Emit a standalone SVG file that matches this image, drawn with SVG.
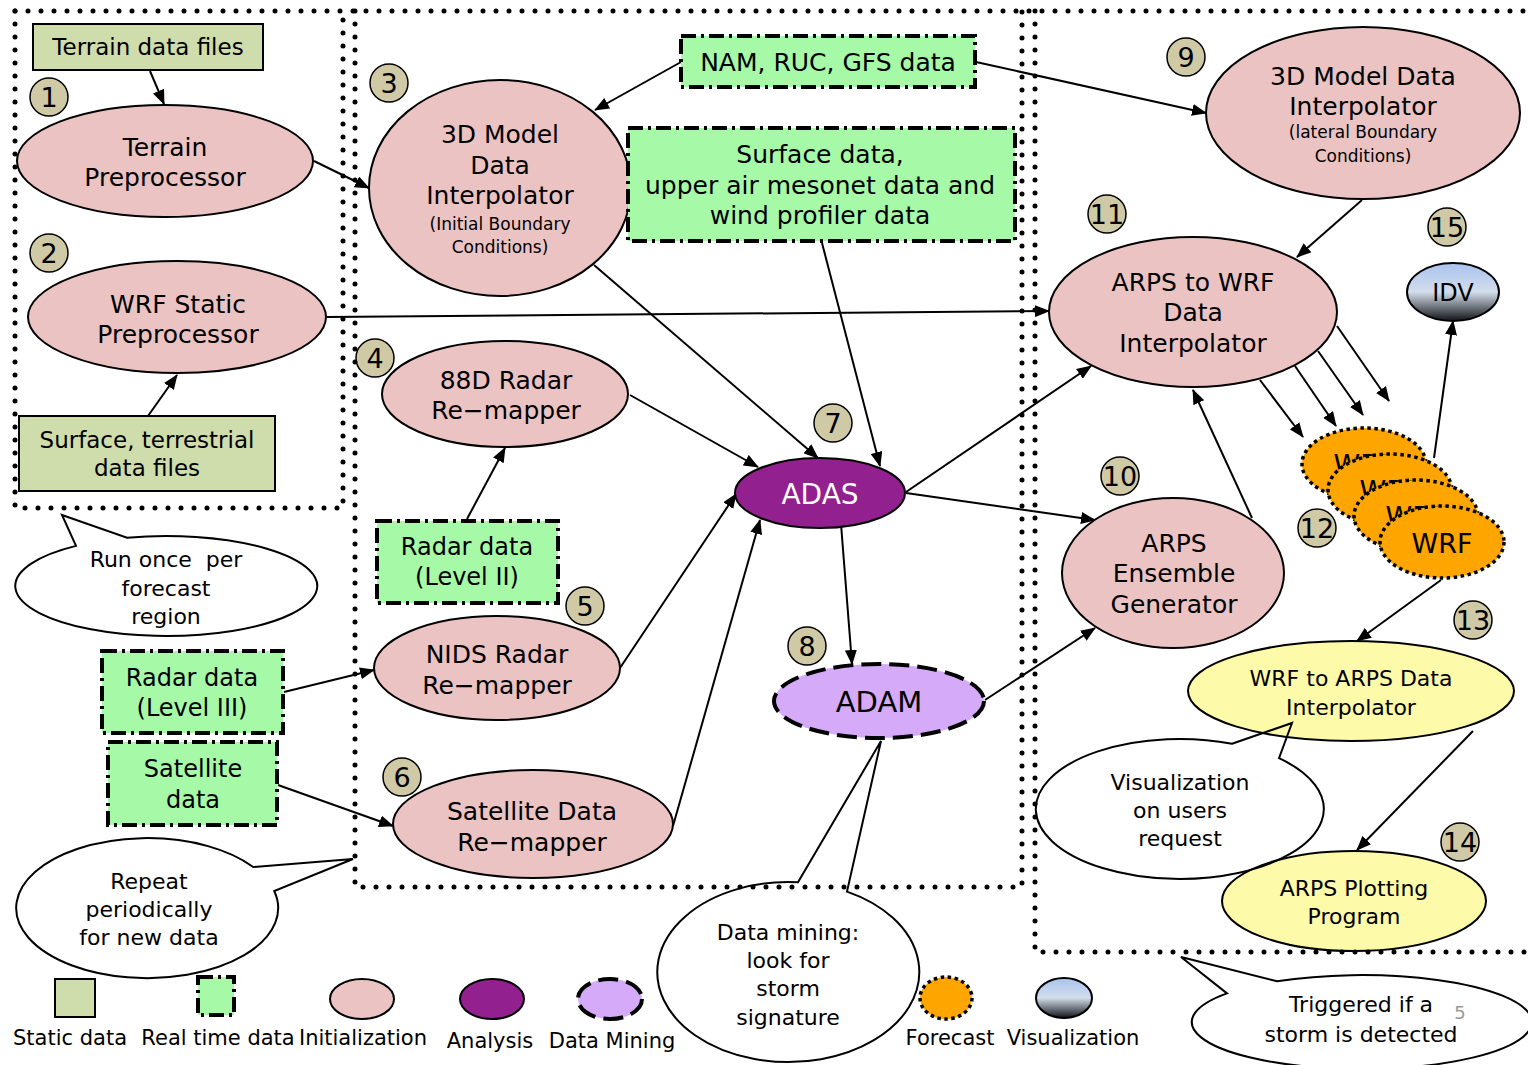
<svg xmlns="http://www.w3.org/2000/svg" width="1528" height="1065" viewBox="0 0 1528 1065">
<defs>
<style>
text { font-family: "DejaVu Sans", "Noto Sans", sans-serif; fill:#000; text-anchor:middle; }
.f25 { font-size:25px } .f24 { font-size:24px } .f23 { font-size:23px } .f22 { font-size:22px } .f21 { font-size:21px } .f17 { font-size:17px }
.num { font-size:27px }
.static { fill:#cfdcab; stroke:#000; stroke-width:2 }
.rt { fill:#a6f9a6; stroke:#000; stroke-width:4; stroke-dasharray:15 5 3 5 }
.init { fill:#ebc3c3; stroke:#000; stroke-width:2 }
.ana { fill:#93208f; stroke:#000; stroke-width:2 }
.dm { fill:#d5aaf9; stroke:#000; stroke-width:4; stroke-dasharray:20 8 }
.fc { fill:#ffa500; stroke:#000; stroke-width:3.5; stroke-dasharray:3.5 3.5 }
.yel { fill:#fdfaa9; stroke:#000; stroke-width:2 }
.vis { fill:url(#visGrad); stroke:#000; stroke-width:2 }
.badge { fill:#d0c9a6; stroke:#000; stroke-width:1.5 }
.callout { fill:none; stroke:#000; stroke-width:2 }
.edge { fill:none; stroke:#000; stroke-width:2; marker-end:url(#arr) }
.bound { fill:none; stroke:#000; stroke-width:5; stroke-linecap:round; stroke-dasharray:0 13 }
</style>
<marker id="arr" markerWidth="15" markerHeight="12" refX="14" refY="6" orient="auto" markerUnits="userSpaceOnUse">
<path d="M0,0 L15,6 L0,12 z" fill="#000"/>
</marker>
<linearGradient id="visGrad" x1="0" y1="0" x2="0" y2="1">
<stop offset="0" stop-color="#a9c3ee"/>
<stop offset="0.5" stop-color="#d3ddeb"/>
<stop offset="1" stop-color="#111418"/>
</linearGradient>
</defs>
<rect width="1528" height="1065" fill="#fff"/>

<g id="connectors">
<line class="edge" x1="150" y1="71" x2="164" y2="104"/>
<line class="edge" x1="148" y1="416" x2="177" y2="375"/>
<line class="edge" x1="314" y1="161" x2="369" y2="188"/>
<line class="edge" x1="681" y1="62" x2="595" y2="110"/>
<line class="edge" x1="976" y1="62" x2="1206" y2="113"/>
<line class="edge" x1="327" y1="317" x2="1049" y2="311"/>
<line class="edge" x1="594" y1="265" x2="818" y2="458"/>
<line class="edge" x1="822" y1="243" x2="880" y2="466"/>
<line class="edge" x1="630" y1="395" x2="758" y2="467"/>
<line class="edge" x1="467" y1="519" x2="505" y2="448"/>
<line class="edge" x1="620" y1="668" x2="736" y2="494"/>
<line class="edge" x1="284" y1="692" x2="374" y2="670"/>
<line class="edge" x1="278" y1="785" x2="393" y2="826"/>
<line class="edge" x1="673" y1="826" x2="760" y2="520"/>
<line class="edge" x1="906" y1="492" x2="1091" y2="366"/>
<line class="edge" x1="906" y1="493" x2="1095" y2="520"/>
<line class="edge" x1="841" y1="524" x2="852" y2="664"/>
<line class="edge" x1="985" y1="700" x2="1095" y2="628"/>
<line class="edge" x1="1252" y1="518" x2="1193" y2="390"/>
<line class="edge" x1="1362" y1="200" x2="1297" y2="257"/>
<line class="edge" x1="1260" y1="380" x2="1303" y2="437"/>
<line class="edge" x1="1295" y1="366" x2="1336" y2="426"/>
<line class="edge" x1="1318" y1="351" x2="1363" y2="415"/>
<line class="edge" x1="1337" y1="326" x2="1389" y2="401"/>
<line class="edge" x1="1434" y1="458" x2="1453" y2="321"/>
<line class="edge" x1="1441" y1="580" x2="1357" y2="641"/>
<line class="edge" x1="1473" y1="731" x2="1357" y2="850"/>
</g>

<g id="n-terrain-files">
<rect class="static" x="33" y="24" width="230" height="46"/>
<text class="f23" x="148" y="55">Terrain data files</text>
</g>
<g id="badge-1"><circle class="badge" cx="49" cy="97" r="19"/><text class="num" x="49" y="107">1</text></g>
<g id="n-terrain-pre">
<ellipse class="init" cx="165" cy="161" rx="148" ry="56"/>
<text class="f25" x="165" y="156">Terrain</text>
<text class="f25" x="165" y="186">Preprocessor</text>
</g>
<g id="badge-2"><circle class="badge" cx="49" cy="253" r="19"/><text class="num" x="49" y="263">2</text></g>
<g id="n-wrf-static">
<ellipse class="init" cx="177" cy="317" rx="149" ry="56"/>
<text class="f25" x="178" y="313">WRF Static</text>
<text class="f25" x="178" y="343">Preprocessor</text>
</g>
<g id="n-surface-files">
<rect class="static" x="19" y="416" width="256" height="75"/>
<text class="f23" x="147" y="448">Surface, terrestrial</text>
<text class="f23" x="147" y="476">data files</text>
</g>

<g id="badge-3"><circle class="badge" cx="389" cy="83" r="19"/><text class="num" x="389" y="93">3</text></g>
<g id="n-3d-initial">
<ellipse class="init" cx="500" cy="188" rx="131" ry="108"/>
<text class="f25" x="500" y="143">3D Model</text>
<text class="f25" x="500" y="174">Data</text>
<text class="f25" x="500" y="204">Interpolator</text>
<text class="f17" x="500" y="230">(Initial Boundary</text>
<text class="f17" x="500" y="253">Conditions)</text>
</g>
<g id="n-nam">
<rect class="rt" x="681" y="36" width="294" height="51"/>
<text class="f25" x="828" y="71">NAM, RUC, GFS data</text>
</g>
<g id="n-surface-data">
<rect class="rt" x="628" y="128" width="387" height="113"/>
<text class="f25" x="820" y="163">Surface data,</text>
<text class="f25" x="820" y="194">upper air mesonet data and</text>
<text class="f25" x="820" y="224">wind profiler data</text>
</g>
<g id="badge-4"><circle class="badge" cx="375" cy="358" r="19"/><text class="num" x="375" y="368">4</text></g>
<g id="n-88d">
<ellipse class="init" cx="505" cy="394" rx="123" ry="53"/>
<text class="f25" x="506" y="389">88D Radar</text>
<text class="f25" x="506" y="419">Re−mapper</text>
</g>
<g id="n-radar-l2">
<rect class="rt" x="377" y="521" width="181" height="82"/>
<text class="f24" x="467" y="555">Radar data</text>
<text class="f24" x="467" y="585">(Level II)</text>
</g>
<g id="badge-5"><circle class="badge" cx="585" cy="606" r="19"/><text class="num" x="585" y="616">5</text></g>
<g id="n-nids">
<ellipse class="init" cx="497" cy="668" rx="123" ry="52"/>
<text class="f25" x="497" y="663">NIDS Radar</text>
<text class="f25" x="497" y="694">Re−mapper</text>
</g>
<g id="n-radar-l3">
<rect class="rt" x="102" y="651" width="181" height="82"/>
<text class="f24" x="192" y="686">Radar data</text>
<text class="f24" x="192" y="716">(Level III)</text>
</g>
<g id="n-sat-data">
<rect class="rt" x="108" y="742" width="169" height="83"/>
<text class="f24" x="193" y="777">Satellite</text>
<text class="f24" x="193" y="808">data</text>
</g>
<g id="badge-6"><circle class="badge" cx="402" cy="777" r="19"/><text class="num" x="402" y="787">6</text></g>
<g id="n-sat-remap">
<ellipse class="init" cx="533" cy="824" rx="140" ry="54"/>
<text class="f25" x="532" y="820">Satellite Data</text>
<text class="f25" x="532" y="851">Re−mapper</text>
</g>
<g id="badge-7"><circle class="badge" cx="833" cy="423" r="19"/><text class="num" x="833" y="433">7</text></g>
<g id="n-adas">
<ellipse class="ana" cx="820" cy="493" rx="85" ry="35"/>
<text x="820" y="504" style="font-size:28px;fill:#fff">ADAS</text>
</g>
<g id="badge-8"><circle class="badge" cx="807" cy="646" r="19"/><text class="num" x="807" y="656">8</text></g>
<g id="n-adam">
<ellipse class="dm" cx="879" cy="701" rx="105" ry="37"/>
<text x="879" y="712" style="font-size:29px">ADAM</text>
</g>

<g id="badge-9"><circle class="badge" cx="1186" cy="57" r="19"/><text class="num" x="1186" y="67">9</text></g>
<g id="n-3d-lateral">
<ellipse class="init" cx="1363" cy="113" rx="157" ry="86"/>
<text class="f25" x="1363" y="85">3D Model Data</text>
<text class="f25" x="1363" y="115">Interpolator</text>
<text class="f17" x="1363" y="138">(lateral Boundary</text>
<text class="f17" x="1363" y="162">Conditions)</text>
</g>
<g id="badge-11"><circle class="badge" cx="1107" cy="214" r="19"/><text class="num" x="1107" y="224">11</text></g>
<g id="n-arps-wrf">
<ellipse class="init" cx="1193" cy="312" rx="144" ry="75"/>
<text class="f25" x="1193" y="291">ARPS to WRF</text>
<text class="f25" x="1193" y="321">Data</text>
<text class="f25" x="1193" y="352">Interpolator</text>
</g>
<g id="badge-15"><circle class="badge" cx="1447" cy="227" r="19"/><text class="num" x="1447" y="237">15</text></g>
<g id="n-idv">
<ellipse class="vis" cx="1453" cy="292" rx="46" ry="29"/>
<text class="f24" x="1453" y="301">IDV</text>
</g>
<g id="badge-10"><circle class="badge" cx="1120" cy="476" r="19"/><text class="num" x="1120" y="486">10</text></g>
<g id="n-ensemble">
<ellipse class="init" cx="1173" cy="573" rx="111" ry="75"/>
<text class="f25" x="1174" y="552">ARPS</text>
<text class="f25" x="1174" y="582">Ensemble</text>
<text class="f25" x="1174" y="613">Generator</text>
</g>
<g id="n-wrf">
<ellipse class="fc" cx="1364" cy="464" rx="62" ry="36"/>
<text x="1364" y="474" style="font-size:27px">WRF</text>
<ellipse class="fc" cx="1390" cy="490" rx="62" ry="36"/>
<text x="1390" y="500" style="font-size:27px">WRF</text>
<ellipse class="fc" cx="1416" cy="516" rx="62" ry="36"/>
<text x="1416" y="526" style="font-size:27px">WRF</text>
<ellipse class="fc" cx="1442" cy="542" rx="62" ry="36"/>
<text x="1442" y="553" style="font-size:27px">WRF</text>
</g>
<g id="badge-12"><circle class="badge" cx="1317" cy="528" r="19"/><text class="num" x="1317" y="538">12</text></g>
<g id="badge-13"><circle class="badge" cx="1473" cy="620" r="19"/><text class="num" x="1473" y="630">13</text></g>
<g id="n-wrf-arps">
<ellipse class="yel" cx="1351" cy="691" rx="163" ry="50"/>
<text class="f22" x="1351" y="686">WRF to ARPS Data</text>
<text class="f22" x="1351" y="715">Interpolator</text>
</g>
<g id="badge-14"><circle class="badge" cx="1460" cy="842" r="19"/><text class="num" x="1460" y="852">14</text></g>
<g id="n-plotting">
<ellipse class="yel" cx="1354" cy="901" rx="132" ry="50"/>
<text class="f22" x="1354" y="896">ARPS Plotting</text>
<text class="f22" x="1354" y="924">Program</text>
</g>

<g id="callout-run-once">
<path class="callout" d="M76,545.9 L62,515 L127,537.7 A151,50 0 1 1 76,545.9 Z"/>
<text class="f22" x="166" y="567" style="white-space:pre">Run once  per</text>
<text class="f22" x="166" y="596">forecast</text>
<text class="f22" x="166" y="624">region</text>
</g>
<g id="callout-repeat">
<path class="callout" d="M253.2,867 L353,859 L274.2,891 A131,70 0 1 1 253.2,867 Z"/>
<text class="f22" x="149" y="889">Repeat</text>
<text class="f22" x="149" y="917">periodically</text>
<text class="f22" x="149" y="945">for new data</text>
</g>
<g id="callout-data-mining">
<path class="callout" d="M798,882.3 L881,741 L847,891.6 A131,90 0 1 1 798,882.3 Z"/>
<text class="f22" x="788" y="940">Data mining:</text>
<text class="f22" x="788" y="968">look for</text>
<text class="f22" x="788" y="996">storm</text>
<text class="f22" x="788" y="1025">signature</text>
</g>
<g id="callout-visualization">
<path class="callout" d="M1232,743.7 L1292,723 L1279,758.2 A144,70 0 1 1 1232,743.7 Z"/>
<text class="f22" x="1180" y="790">Visualization</text>
<text class="f22" x="1180" y="818">on users</text>
<text class="f22" x="1180" y="846">request</text>
</g>
<g id="callout-triggered">
<path class="callout" d="M1227,993.4 L1181,957 L1277,981.3 A170,47 0 1 1 1227,993.4 Z"/>
<text class="f22" x="1361" y="1012">Triggered if a</text>
<text class="f22" x="1361" y="1042">storm is detected</text>
</g>
<text x="1460" y="1019" style="font-size:18px;fill:#999">5</text>

<g id="legend">
<rect class="static" x="55" y="979" width="40" height="38"/>
<text class="f21" x="70" y="1045">Static data</text>
<rect class="rt" x="198" y="977" width="36" height="38"/>
<text class="f21" x="218" y="1045">Real time data</text>
<ellipse class="init" cx="362" cy="999" rx="32" ry="20"/>
<text class="f21" x="363" y="1045">Initialization</text>
<ellipse class="ana" cx="492" cy="999" rx="32" ry="20"/>
<text class="f21" x="490" y="1048">Analysis</text>
<ellipse class="dm" cx="610" cy="999" rx="32" ry="20"/>
<text class="f21" x="612" y="1048">Data Mining</text>
<ellipse class="fc" cx="946" cy="998" rx="26" ry="21"/>
<text class="f21" x="950" y="1045">Forecast</text>
<ellipse class="vis" cx="1064" cy="998" rx="28" ry="20"/>
<text class="f21" x="1073" y="1045">Visualization</text>
</g>

<g id="boundaries">
<path class="bound" d="M15,11 H1528"/>
<path class="bound" d="M15,11 V508 H343 V11"/>
<path class="bound" d="M355,11 V887 H1022 V11"/>
<path class="bound" d="M1035,11 V952 H1528"/>
</g>
</svg>
